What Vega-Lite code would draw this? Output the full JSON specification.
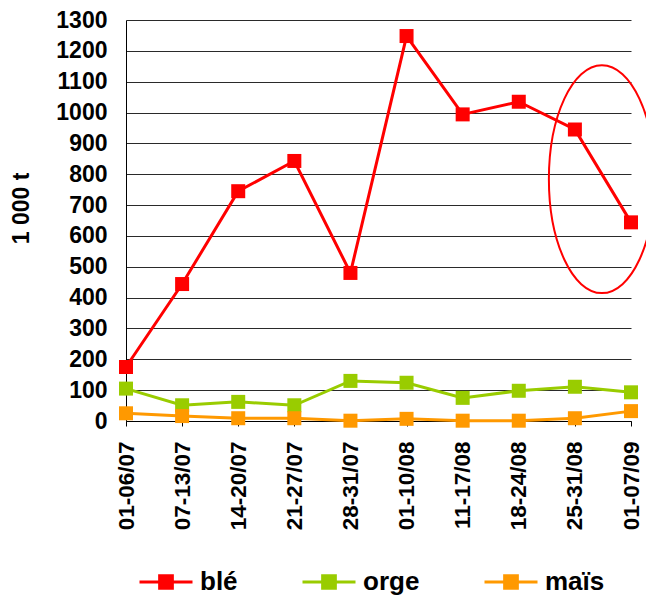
{
  "$schema": "https://vega.github.io/schema/vega-lite/v6.json",
  "autosize": {"type": "none"},
  "width": 505,
  "height": 401,
  "padding": {"left": 126, "top": 20, "right": 15, "bottom": 174},
  "background": "white",
  "config": {
    "font": "Liberation Sans",
    "view": {"stroke": null},
    "axis": {"labelFont": "Liberation Sans", "labelFontWeight": "bold", "labelColor": "black", "titleFont": "Liberation Sans", "titleFontWeight": "bold", "titleColor": "black", "domainColor": "black", "domainWidth": 1},
    "axisX": {"labelAngle": 270, "labelFontSize": 22.5, "labelOverlap": false, "labelLimit": 300, "tickSize": 5, "tickColor": "black", "labelPadding": 15, "grid": false},
    "axisY": {"titleFontSize": 23, "titleX": -93, "titleY": 188, "titleBaseline": "bottom", "titleAngle": 270, "titleAlign": "center", "format": "d", "labelOverlap": false, "labelFontSize": 23, "ticks": false, "labelPadding": 19, "gridColor": "#2a2a2a", "gridWidth": 1, "gridOpacity": 1}
  },
  "layer": [
    {
      "data": {"name": "series"},
      "mark": {"type": "line", "strokeJoin": "miter"},
      "encoding": {
        "x": {"field": "période", "type": "nominal", "sort": null,
              "scale": {"type": "point", "padding": 0},
              "axis": {"title": null}},
        "y": {"field": "valeur", "type": "quantitative",
              "scale": {"domain": [0, 1300], "nice": false},
              "axis": {"title": "1 000 t", "values": [0,100,200,300,400,500,600,700,800,900,1000,1100,1200,1300]}},
        "color": {"field": "série", "type": "nominal",
                  "scale": {"domain": ["blé", "orge", "maïs"], "range": ["#FF0000", "#99CC00", "#FF9900"]},
                  "legend": {
                    "title": null, "orient": "none", "legendX": 12, "legendY": 534, "direction": "horizontal",
                    "labelFontSize": 26, "labelFontWeight": "bold", "labelColor": "black", "labelFont": "Liberation Sans",
                    "labelOffset": 6, "columnPadding": 58,
                    "symbolType": "M-1,0H1M-0.24,-0.24H0.24V0.24H-0.24Z", "symbolSize": 2809, "symbolStrokeWidth": 4,
                    "encode": {"symbols": {"update": {
                      "shape": {"value": "M-1,0H1M-0.24,-0.24H0.24V0.24H-0.24Z"},
                      "size": {"value": 2809},
                      "fill": {"scale": "color", "field": "value"},
                      "stroke": {"scale": "color", "field": "value"},
                      "strokeWidth": {"value": 4},
                      "opacity": {"value": 1}
                    }}}
                  }},
        "strokeWidth": {"field": "série", "type": "nominal", "scale": {"domain": ["blé", "orge", "maïs"], "range": [3, 3, 5]}, "legend": null}
      }
    },
    {
      "data": {"name": "series"},
      "mark": {"type": "point", "shape": "square", "filled": true, "size": 196, "opacity": 1},
      "encoding": {
        "x": {"field": "période", "type": "nominal", "sort": null, "axis": {"title": null}},
        "y": {"field": "valeur", "type": "quantitative", "axis": {"title": "1 000 t", "values": [0,100,200,300,400,500,600,700,800,900,1000,1100,1200,1300]}},
        "color": {"field": "série", "type": "nominal"}
      }
    },
    {
      "data": {"values": [{}]},
      "mark": {"type": "point", "shape": "M0,-2.15C0.5523,-2.15,1,-1.1874,1,0C1,1.1874,0.5523,2.15,0,2.15C-0.5523,2.15,-1,1.1874,-1,0C-1,-1.1874,-0.5523,-2.15,0,-2.15Z", "size": 11236, "filled": false, "stroke": "#FF0000", "strokeWidth": 2, "opacity": 1, "xOffset": 27, "clip": false},
      "encoding": {
        "x": {"datum": "25-31/08", "axis": {"title": null}},
        "y": {"datum": 784, "axis": {"title": "1 000 t", "values": [0,100,200,300,400,500,600,700,800,900,1000,1100,1200,1300]}}
      }
    }
  ],
  "datasets": {
    "series": [
      {"série": "blé", "période": "01-06/07", "valeur": 175},
      {"série": "blé", "période": "07-13/07", "valeur": 444},
      {"série": "blé", "période": "14-20/07", "valeur": 745},
      {"série": "blé", "période": "21-27/07", "valeur": 843},
      {"série": "blé", "période": "28-31/07", "valeur": 480},
      {"série": "blé", "période": "01-10/08", "valeur": 1248},
      {"série": "blé", "période": "11-17/08", "valeur": 994},
      {"série": "blé", "période": "18-24/08", "valeur": 1035},
      {"série": "blé", "période": "25-31/08", "valeur": 945},
      {"série": "blé", "période": "01-07/09", "valeur": 644},
      {"série": "orge", "période": "01-06/07", "valeur": 105},
      {"série": "orge", "période": "07-13/07", "valeur": 51},
      {"série": "orge", "période": "14-20/07", "valeur": 62},
      {"série": "orge", "période": "21-27/07", "valeur": 51},
      {"série": "orge", "période": "28-31/07", "valeur": 130},
      {"série": "orge", "période": "01-10/08", "valeur": 124},
      {"série": "orge", "période": "11-17/08", "valeur": 75},
      {"série": "orge", "période": "18-24/08", "valeur": 98},
      {"série": "orge", "période": "25-31/08", "valeur": 111},
      {"série": "orge", "période": "01-07/09", "valeur": 93},
      {"série": "maïs", "période": "01-06/07", "valeur": 25},
      {"série": "maïs", "période": "07-13/07", "valeur": 16},
      {"série": "maïs", "période": "14-20/07", "valeur": 9},
      {"série": "maïs", "période": "21-27/07", "valeur": 9},
      {"série": "maïs", "période": "28-31/07", "valeur": 1},
      {"série": "maïs", "période": "01-10/08", "valeur": 7},
      {"série": "maïs", "période": "11-17/08", "valeur": 1},
      {"série": "maïs", "période": "18-24/08", "valeur": 1},
      {"série": "maïs", "période": "25-31/08", "valeur": 9},
      {"série": "maïs", "période": "01-07/09", "valeur": 32}
    ]
  }
}
